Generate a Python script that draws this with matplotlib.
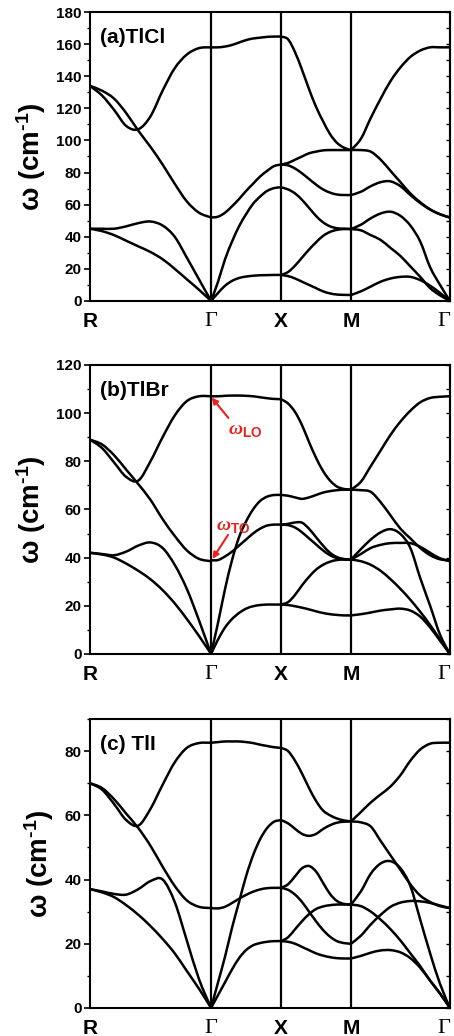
import numpy as np
import matplotlib.pyplot as plt
from matplotlib.ticker import MultipleLocator
from matplotlib.path import Path
from matplotlib.patches import PathPatch

plt.rcParams['font.family'] = ['Liberation Sans', 'DejaVu Sans']
plt.rcParams['font.weight'] = 'bold'
plt.rcParams['mathtext.fontset'] = 'custom'
plt.rcParams['mathtext.it'] = 'Liberation Serif:italic'
plt.rcParams['mathtext.bf'] = 'Liberation Sans:bold'
plt.rcParams['mathtext.rm'] = 'Liberation Sans:bold'
plt.rcParams['mathtext.default'] = 'regular'

labels = ['R', 'Γ', 'X', 'M', 'Γ']
kpts = [0.0, 0.866, 1.366, 1.866, 2.573]
t = np.linspace(0, 1, 11)   # fraction along each segment

# ---- TlCl, per segment R-G, G-X, X-M, M-G ----
tlcl_RG = [
    [134, 128, 119, 109, 107, 115, 131, 145, 153.5, 157.5, 158],
    [134, 131, 126, 117, 106, 96, 85, 73, 62, 55, 52],
    [45, 45, 45, 46.5, 48.5, 49.5, 47, 40, 27, 13.5, 0],
    [45, 43.5, 41, 37.5, 34, 30.5, 26, 20, 13.5, 7, 0],
]
tlcl_GX = [
    [158, 158, 158.5, 159.5, 161, 162.5, 163.5, 164, 164.5, 164.7, 164.7],
    [52, 52.5, 55, 59, 63.5, 68.5, 73, 77.5, 81, 84, 85],
    [0, 12, 26, 37, 46.5, 54, 60.5, 65, 68.5, 70.3, 70.8],
    [0, 5, 9.5, 12.5, 14.3, 15.2, 15.7, 16, 16.1, 16.2, 16.2],
]
tlcl_XM = [
    [164.7, 163, 155, 144, 132, 121, 112, 104, 98.5, 95.5, 94],
    [85, 86, 88, 90, 92, 93, 93.8, 94, 94, 94, 94],
    [85, 84.5, 82.5, 79.5, 76, 72.5, 69.5, 67.5, 66.3, 66, 66],
    [70.8, 69.5, 67, 63, 58, 53, 49, 46.5, 45.3, 45, 44.8],
    [16.2, 18, 22, 27, 32, 36.5, 40.5, 43, 44.3, 44.8, 44.8],
    [16.2, 15.5, 14, 12, 10, 8, 6, 4.7, 4, 3.8, 3.7],
]
tlcl_MG = [
    [94, 101, 114, 126, 137, 145.5, 152, 156, 158, 158, 158],
    [94, 94, 93, 88, 81, 74, 67, 61.5, 57, 54, 52],
    [66, 68, 71.5, 74, 74.5, 71.5, 66, 61, 57, 54, 52],
    [44.8, 47.5, 51.5, 54.5, 55.6, 53, 47, 37, 21, 10, 0],
    [44.8, 44, 41, 38, 33, 28, 21.5, 15, 8, 3.5, 0],
    [3.7, 6, 9, 12, 14, 15, 15, 13, 9.5, 5, 0],
]

# ---- TlBr ----
tlbr_RG = [
    [89, 85.5, 79.5, 73.5, 72, 80, 90, 99, 105, 107, 107],
    [89, 87, 82.5, 76.5, 70.5, 64, 56, 49, 43, 39.5, 38.5],
    [42, 41.5, 41, 42.5, 45, 46.3, 44, 37, 27, 14, 0],
    [42, 41.3, 40, 37.5, 34.5, 31, 26.5, 21, 14.5, 7.5, 0],
]
tlbr_GX = [
    [107, 107, 107.2, 107.3, 107.3, 107.2, 107, 106.6, 106.2, 105.9, 105.8],
    [38.9, 39, 40.5, 42.5, 45, 47.5, 50, 52, 53.3, 53.7, 53.7],
    [0, 13, 27, 39, 48.5, 55, 60, 63.5, 65.3, 66, 66],
    [0, 6, 11, 14.5, 17, 18.8, 19.8, 20.3, 20.5, 20.5, 20.5],
]
tlbr_XM = [
    [105.8, 104, 100.5, 95, 88, 81.5, 76, 72, 69.5, 68.5, 68.2],
    [66, 65.7, 65, 64.4, 65, 66, 67, 67.6, 68, 68.2, 68.2],
    [53.7, 54, 54.6, 54.5, 52, 48.5, 45, 42, 40.2, 39.4, 39.2],
    [53.7, 53.5, 52.5, 50.5, 48, 45.5, 43, 41, 39.8, 39.3, 39.2],
    [20.5, 21.5, 24.5, 28.5, 32, 35, 37, 38.3, 39, 39.2, 39.2],
    [20.5, 20.3, 19.8, 19.2, 18.5, 17.7, 17, 16.5, 16.2, 16, 16],
]
tlbr_MG = [
    [68.2, 71.5, 78, 84.5, 91, 96.5, 101, 104.5, 106.3, 106.8, 107],
    [68.2, 68, 67.3, 63, 57.5, 52, 48, 44, 41, 39.3, 38.9],
    [39.2, 43.5, 47.5, 50.5, 51.8, 49.8, 44, 31.5, 20, 8, 0],
    [39.2, 41.5, 44, 45.3, 46, 46.1, 46, 44.5, 42, 39.7, 38.5],
    [39.2, 38.5, 37, 34.5, 31, 27, 22.5, 17.5, 12, 6, 0],
    [16, 16.5, 17.2, 18, 18.5, 18.8, 18, 15.5, 11, 5.5, 0],
]

# ---- TlI ----
tli_RG = [
    [70, 68, 63.5, 58.5, 56.8, 62, 69.5, 76.5, 81, 82.5, 82.6],
    [70, 68.5, 65, 60.5, 56, 50.5, 44, 38, 33.5, 31.5, 31.1],
    [37, 36.3, 35.5, 35.3, 37, 39.5, 40, 33, 21, 9, 0],
    [37, 36, 34.5, 32, 29, 25.5, 21.5, 17, 11.5, 6, 0],
]
tli_GX = [
    [82.6, 82.8, 83, 83, 83, 82.8, 82.5, 82, 81.6, 81.2, 81],
    [31.1, 31, 31.5, 32.7, 34, 35.2, 36.2, 36.9, 37.3, 37.4, 37.4],
    [0, 8, 16, 25, 33, 41, 47.5, 52.5, 56, 58, 58.5],
    [0, 4, 8, 12, 15.5, 18, 19.5, 20.2, 20.6, 20.8, 20.8],
]
tli_XM = [
    [81, 80, 77, 73, 68.5, 64.5, 61.5, 60, 59, 58.4, 58.1],
    [58.5, 57.5, 55.8, 54.2, 53.6, 54.2, 55.7, 56.9, 57.7, 58, 58.1],
    [37.4, 38.5, 41, 43.5, 44.2, 42.5, 39, 35.5, 33.3, 32.4, 32.2],
    [37.4, 36.8, 35.3, 33, 30, 27, 24.3, 22.2, 20.8, 20.2, 20],
    [20.8, 22, 24.5, 27, 29.2, 30.8, 31.6, 32, 32.2, 32.2, 32.2],
    [20.8, 20.6, 20, 19, 18, 17, 16.3, 15.8, 15.5, 15.4, 15.4],
]
tli_MG = [
    [58.1, 61, 64, 66.5, 69, 72.5, 77, 80.5, 82.3, 82.6, 82.6],
    [58.1, 57.8, 56.5, 52, 47.5, 43, 38.5, 35, 33, 31.7, 31.1],
    [32.2, 36.3, 41.8, 45, 45.7, 43.5, 38, 27.5, 17, 7.5, 0],
    [32.2, 31.7, 30, 27.5, 24.5, 21, 17, 13, 8.5, 4.5, 0],
    [20, 22.5, 26, 29, 31.5, 32.8, 33.3, 33.2, 32.7, 31.9, 31.1],
    [15.4, 16.2, 17.2, 17.9, 18, 17.3, 15.5, 12.5, 8.5, 4.5, 0],
]

panels = [
    ('(a)TlCl', [tlcl_RG, tlcl_GX, tlcl_XM, tlcl_MG], 180),
    ('(b)TlBr', [tlbr_RG, tlbr_GX, tlbr_XM, tlbr_MG], 120),
    ('(c) TlI', [tli_RG, tli_GX, tli_XM, tli_MG], 90),
]


def smooth_path(x, y):
    # draw a curve through the read points with Bezier segments
    pts = np.column_stack([x, y])
    P = np.vstack([pts[0], pts, pts[-1]])
    verts = [pts[0]]
    codes = [Path.MOVETO]
    for i in range(1, len(P) - 2):
        p0, p1, p2, p3 = P[i - 1], P[i], P[i + 1], P[i + 2]
        verts += [p1 + (p2 - p0) / 6, p2 - (p3 - p1) / 6, p2]
        codes += [Path.CURVE4] * 3
    return Path(verts, codes)


red = '#e8231f'
fig = plt.figure(figsize=(4.54, 10.36), dpi=100)
tops = [0.9884, 0.6477, 0.306]
h = 0.2789

for (name, segs, ymax), top in zip(panels, tops):
    ax = fig.add_axes([0.198, top - h, 0.793, h])
    for i, seg in enumerate(segs):
        k = kpts[i] + t * (kpts[i + 1] - kpts[i])
        for band in seg:
            ax.add_patch(PathPatch(smooth_path(k, band), fill=False,
                                   edgecolor='k', lw=1.8, capstyle='round'))
    for kv in kpts[1:-1]:
        ax.axvline(kv, color='k', lw=1.6)
    ax.set_xlim(kpts[0], kpts[-1])
    ax.set_ylim(0, ymax)
    ax.set_xticks(kpts)
    ax.set_xticklabels(labels)
    xlabs = ax.get_xticklabels()
    for lab in xlabs:
        if lab.get_text() == 'Γ':
            lab.set_family('Liberation Serif')
            lab.set_fontweight('normal')
            lab.set_fontsize(16)
        else:
            lab.set_fontsize(15)
    # last Γ sits on the right edge; keep it inside the picture
    xlabs[-1].set_horizontalalignment('right')
    ax.tick_params(axis='x', length=0, pad=8)
    ax.yaxis.set_major_locator(MultipleLocator(20))
    ax.yaxis.set_minor_locator(MultipleLocator(10))
    ax.tick_params(axis='y', which='major', direction='out', length=4, width=1.2,
                   labelsize=11, pad=2)
    ax.tick_params(axis='y', which='minor', direction='out', length=2.5, width=1.0)
    sec = ax.secondary_yaxis('right')
    sec.yaxis.set_major_locator(MultipleLocator(20))
    sec.yaxis.set_minor_locator(MultipleLocator(10))
    sec.tick_params(which='both', direction='in', length=3, width=1.0, labelright=False)
    sec.spines['right'].set_linewidth(1.5)
    for sp in ax.spines.values():
        sp.set_linewidth(1.5)
    ax.set_ylabel(r'ω (cm$^{\text{-1}}$)', fontsize=20, fontweight='bold', labelpad=6)
    ax.text(0.028, 0.893, name, transform=ax.transAxes, fontsize=15,
            fontweight='bold', va='baseline', ha='left')

    if name.startswith('(b)'):
        ax.annotate('', xy=(kpts[1] + 0.004, 106.5), xytext=(0.99, 98),
                    arrowprops=dict(arrowstyle='-|>', color=red, lw=1.5,
                                    mutation_scale=9, shrinkA=0, shrinkB=0))
        ax.text(0.99, 91.5, r'$\mathit{\omega}_{\mathbf{LO}}$', color=red,
                fontsize=14, va='baseline', ha='left')
        ax.annotate('', xy=(kpts[1] + 0.01, 39.5), xytext=(0.987, 49.4),
                    arrowprops=dict(arrowstyle='-|>', color=red, lw=1.5,
                                    mutation_scale=9, shrinkA=0, shrinkB=0))
        ax.text(0.902, 51.5, r'$\mathit{\omega}_{\mathbf{TO}}$', color=red,
                fontsize=14, va='baseline', ha='left')

fig.savefig('out.png', dpi=100)
